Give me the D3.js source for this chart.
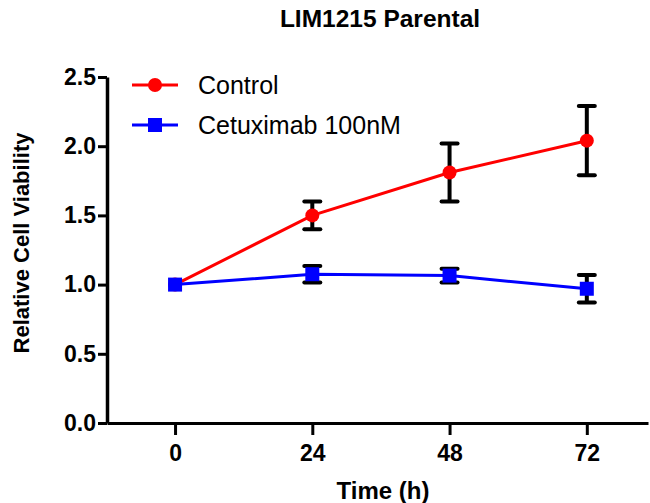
<!DOCTYPE html>
<html>
<head>
<meta charset="utf-8">
<script src="https://cdn.jsdelivr.net/npm/d3@7"></script>
<style>
  body { margin: 0; background: #fff; }
  svg text { font-family: "Liberation Sans", Arial, sans-serif; fill: #000; }
</style>
</head>
<body>
<div id="chart"></div>
<script>
// data
const times = [0, 24, 48, 72];
const controlMean = [1.00, 1.50, 1.81, 2.04];
const controlErr = [0, 0.10, 0.21, 0.25];
const cetuxMean = [1.00, 1.075, 1.065, 0.97];
const cetuxErr = [0, 0.06, 0.05, 0.10];
const yTicks = [0, 0.5, 1.0, 1.5, 2.0, 2.5];

const width = 650;
const height = 503;

const svg = d3.select("#chart")
              .append("svg")
              .attr("width", width)
              .attr("height", height);

// scales (x domain padded so the axis line runs from the y axis to the edge)
const x = d3.scaleLinear().domain([-11.9, 82.7]).range([107, 648]);
const y = d3.scaleLinear().domain([0, 2.5]).range([423, 77]);

// x axis
const xAxis = svg.append("g")
                 .attr("transform", `translate(0, ${y(0)})`)
                 .call(d3.axisBottom(x).tickValues(times).tickSize(12).tickPadding(10).tickSizeOuter(0));
xAxis.select(".domain").attr("stroke-width", 3);
xAxis.selectAll(".tick line").attr("stroke-width", 3);
xAxis.selectAll(".tick text").style("font-size", "23px").style("font-weight", "bold");

// y axis
const yAxis = svg.append("g")
                 .attr("transform", `translate(${x.range()[0]}, 0)`)
                 .call(d3.axisLeft(y).tickValues(yTicks).tickFormat(d3.format(".1f")).tickSize(9).tickPadding(2).tickSizeOuter(0));
yAxis.select(".domain").attr("stroke-width", 3.5);
yAxis.selectAll(".tick line").attr("stroke-width", 3);
yAxis.selectAll(".tick text").style("font-size", "23px").style("font-weight", "bold");

// title and axis labels
svg.append("text")
   .attr("x", 380).attr("y", 27)
   .attr("text-anchor", "middle")
   .style("font-size", "24.5px").style("font-weight", "bold")
   .text("LIM1215 Parental");

svg.append("text")
   .attr("x", 383).attr("y", 499)
   .attr("text-anchor", "middle")
   .style("font-size", "24px").style("font-weight", "bold")
   .text("Time (h)");

svg.append("text")
   .attr("transform", "translate(29, 243) rotate(-90)")
   .attr("text-anchor", "middle")
   .style("font-size", "22px").style("font-weight", "bold")
   .text("Relative Cell Viability");

// series
const series = [
  { name: "Control", mean: controlMean, err: controlErr, color: "#ff0000", shape: "circle" },
  { name: "Cetuximab 100nM", mean: cetuxMean, err: cetuxErr, color: "#0000ff", shape: "square" }
];

const line = d3.line().x(d => x(d.t)).y(d => y(d.v));

function drawMarker(g, shape, color, cx, cy) {
  if (shape === "circle") {
    g.append("circle").attr("cx", cx).attr("cy", cy).attr("r", 7).attr("fill", color);
  } else {
    g.append("rect").attr("x", cx - 7).attr("y", cy - 7).attr("width", 14).attr("height", 14).attr("fill", color);
  }
}

series.forEach(s => {
  const pts = times.map((t, i) => ({ t: t, v: s.mean[i], e: s.err[i] }));
  const g = svg.append("g");

  // error bars
  pts.filter(d => d.e > 0).forEach(d => {
    const cx = x(d.t);
    g.append("line")
     .attr("x1", cx).attr("x2", cx)
     .attr("y1", y(d.v - d.e)).attr("y2", y(d.v + d.e))
     .attr("stroke", "#000").attr("stroke-width", 4);
    [d.v - d.e, d.v + d.e].forEach(v => {
      g.append("line")
       .attr("x1", cx - 8).attr("x2", cx + 8)
       .attr("y1", y(v)).attr("y2", y(v))
       .attr("stroke", "#000").attr("stroke-width", 4)
       .attr("stroke-linecap", "round");
    });
  });

  g.append("path")
   .datum(pts)
   .attr("d", line)
   .attr("fill", "none")
   .attr("stroke", s.color)
   .attr("stroke-width", 3);

  pts.forEach(d => drawMarker(g, s.shape, s.color, x(d.t), y(d.v)));
});

// legend
series.forEach((s, i) => {
  const ly = 85 + i * 40;
  const g = svg.append("g");
  g.append("line")
   .attr("x1", 132).attr("x2", 178)
   .attr("y1", ly).attr("y2", ly)
   .attr("stroke", s.color).attr("stroke-width", 3);
  drawMarker(g, s.shape, s.color, 155, ly);
  g.append("text")
   .attr("x", 198).attr("y", ly)
   .attr("dy", "0.35em")
   .style("font-size", "25px")
   .text(s.name);
});
</script>
</body>
</html>
